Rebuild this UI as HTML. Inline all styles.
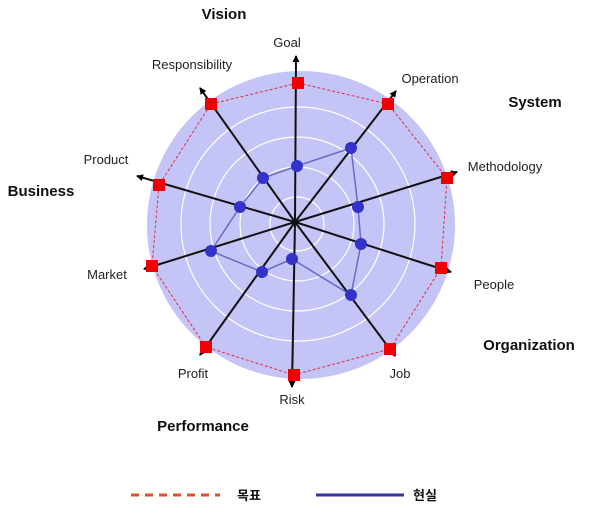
<!DOCTYPE html>
<html><head><meta charset="utf-8"><style>
body{margin:0;background:#fff;width:600px;height:521px;overflow:hidden}
svg text{font-family:"Liberation Sans","Noto Sans CJK KR",sans-serif}
</style></head><body>
<svg width="600" height="521" viewBox="0 0 600 521" xmlns="http://www.w3.org/2000/svg">
<defs><marker id="a" markerWidth="8" markerHeight="8" refX="6" refY="4" orient="auto" markerUnits="userSpaceOnUse"><path d="M0,0.5 L7,4 L0,7.5 z" fill="#000"/></marker></defs>
<circle cx="301" cy="225" r="154" fill="#c4c4f6"/>
<g fill="none" stroke="#fff" stroke-width="1.2">
<circle cx="297" cy="224" r="27"/><circle cx="297" cy="224" r="57"/><circle cx="297" cy="224" r="87"/><circle cx="298" cy="224" r="117"/>
</g>
<polygon points="298,83 388,104 447,178 441,268 390,349 294,375 206,347 152,266 159,185 211,104" fill="none" stroke="#e03040" stroke-width="1" stroke-dasharray="3,2"/>
<g stroke="#111" stroke-width="2" marker-end="url(#a)">
<line x1="295" y1="222" x2="296" y2="56"/>
<line x1="295" y1="222" x2="396" y2="91"/>
<line x1="295" y1="222" x2="457" y2="172"/>
<line x1="295" y1="222" x2="451" y2="272"/>
<line x1="295" y1="222" x2="395" y2="356"/>
<line x1="295" y1="222" x2="292" y2="387"/>
<line x1="295" y1="222" x2="200" y2="355"/>
<line x1="295" y1="222" x2="144" y2="269"/>
<line x1="295" y1="222" x2="137" y2="176"/>
<line x1="295" y1="222" x2="200" y2="88"/>
</g>
<polygon points="297,166 351,148 358,207 361,244 351,295 292,259 262,272 211,251 240,207 263,178" fill="none" stroke="#6a6ac8" stroke-width="1.5"/>
<g fill="#3333cc">
<circle cx="297" cy="166" r="6"/><circle cx="351" cy="148" r="6"/><circle cx="358" cy="207" r="6"/><circle cx="361" cy="244" r="6"/><circle cx="351" cy="295" r="6"/><circle cx="292" cy="259" r="6"/><circle cx="262" cy="272" r="6"/><circle cx="211" cy="251" r="6"/><circle cx="240" cy="207" r="6"/><circle cx="263" cy="178" r="6"/>
</g>
<g fill="#ee0000">
<rect x="292" y="77" width="12" height="12"/><rect x="382" y="98" width="12" height="12"/><rect x="441" y="172" width="12" height="12"/><rect x="435" y="262" width="12" height="12"/><rect x="384" y="343" width="12" height="12"/><rect x="288" y="369" width="12" height="12"/><rect x="200" y="341" width="12" height="12"/><rect x="146" y="260" width="12" height="12"/><rect x="153" y="179" width="12" height="12"/><rect x="205" y="98" width="12" height="12"/>
</g>
<g font-size="13" fill="#222">
<text x="287" y="47" text-anchor="middle">Goal</text>
<text x="192" y="69" text-anchor="middle">Responsibility</text>
<text x="430" y="83" text-anchor="middle">Operation</text>
<text x="505" y="171" text-anchor="middle">Methodology</text>
<text x="106" y="164" text-anchor="middle">Product</text>
<text x="107" y="279" text-anchor="middle">Market</text>
<text x="494" y="289" text-anchor="middle">People</text>
<text x="193" y="378" text-anchor="middle">Profit</text>
<text x="400" y="378" text-anchor="middle">Job</text>
<text x="292" y="404" text-anchor="middle">Risk</text>
</g>
<g font-size="15" font-weight="bold" fill="#111">
<text x="224" y="19" text-anchor="middle">Vision</text>
<text x="535" y="107" text-anchor="middle">System</text>
<text x="41" y="196" text-anchor="middle">Business</text>
<text x="529" y="350" text-anchor="middle">Organization</text>
<text x="203" y="431" text-anchor="middle">Performance</text>
</g>
<line x1="131" y1="495" x2="220" y2="495" stroke="#e05030" stroke-width="3" stroke-dasharray="8,6"/>
<line x1="316" y1="495" x2="404" y2="495" stroke="#3333aa" stroke-width="3"/>
<g font-size="13" font-weight="bold" fill="#111">
<text x="237" y="500">목표</text>
<text x="413" y="500">현실</text>
</g>
</svg>
</body></html>
